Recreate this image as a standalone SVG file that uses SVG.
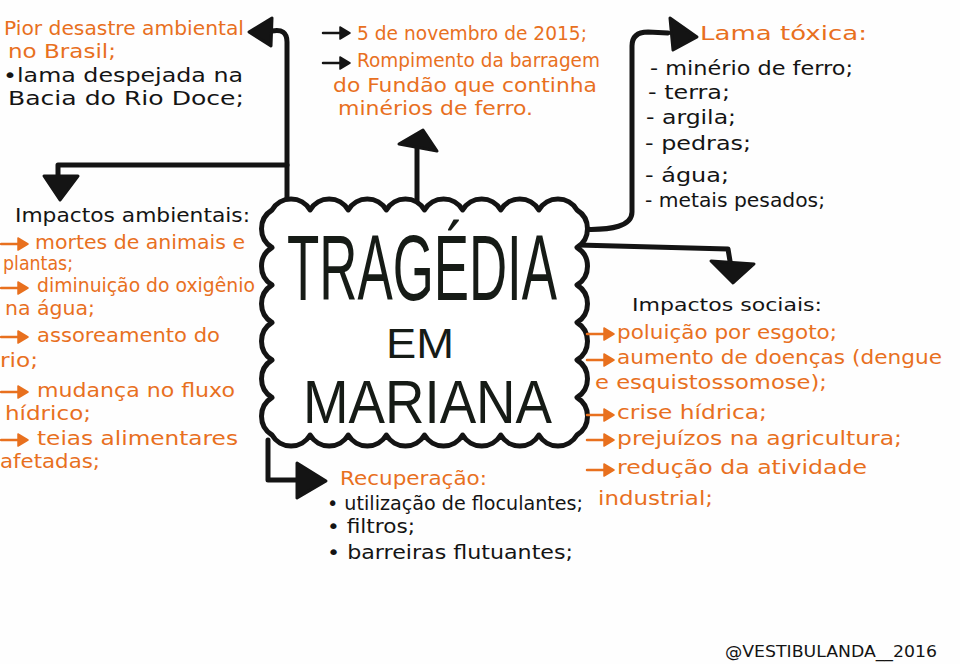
<svg xmlns="http://www.w3.org/2000/svg" xmlns:xlink="http://www.w3.org/1999/xlink" width="960" height="664" viewBox="0 0 960 664">
<style>
text{font-family:"DejaVu Sans","Liberation Sans",sans-serif;font-size:19px}
.o{fill:#e8701e}
.k{fill:#141414}
.conn{fill:none;stroke:#141414;stroke-width:5;stroke-linecap:round;stroke-linejoin:round}
.head{fill:#141414;stroke:#141414;stroke-width:3;stroke-linejoin:round}
.title{fill:#161b16;font-family:"Liberation Sans","DejaVu Sans",sans-serif}
.ao{color:#e8701e}
.ak{color:#141414}
</style>
<defs>
<g id="arr">
<path d="M0,0 H19" fill="none" stroke="currentColor" stroke-width="2.5" stroke-linecap="round"/>
<path d="M17,-6 L27,0 L17,6 Z" fill="currentColor" stroke="currentColor" stroke-width="1.5" stroke-linejoin="round"/>
</g>
</defs>
<rect width="960" height="664" fill="#fefefe"/>

<g id="connectors">
<path class="conn" d="M287,203 L287,42 Q287,28 272,31"/>
<polygon class="head" points="249,32 272,18 271,46"/>
<path class="conn" d="M287,165 L58,165 L58,178"/>
<polygon class="head" points="44,176 78,176 60,200"/>
<path class="conn" d="M417,206 L417,146"/>
<polygon class="head" points="399,144 423,130 437,151"/>
<path class="conn" d="M578,229 Q632,232 632,212 L632,46 Q632,32 648,32 L668,33"/>
<polygon class="head" points="670,18 697,37 673,50"/>
<path class="conn" d="M578,245 L728,249 L730,261"/>
<polygon class="head" points="711,261 754,264 733,283"/>
<path class="conn" d="M268,440 L268,480 L298,480"/>
<polygon class="head" points="297,463 326,481 297,498"/>
</g>

<g id="center">
<path d="M272,210 a22,22 0 0 1 38.125,0 a22,22 0 0 1 38.125,0 a22,22 0 0 1 38.125,0 a22,22 0 0 1 38.125,0 a22,22 0 0 1 38.125,0 a22,22 0 0 1 38.125,0 a22,22 0 0 1 38.125,0 a22,22 0 0 1 38.125,0 a22,22 0 0 1 0,37.5 a22,22 0 0 1 0,37.5 a22,22 0 0 1 0,37.5 a22,22 0 0 1 0,37.5 a22,22 0 0 1 0,37.5 a22,22 0 0 1 0,37.5 a22,22 0 0 1 -38.125,0 a22,22 0 0 1 -38.125,0 a22,22 0 0 1 -38.125,0 a22,22 0 0 1 -38.125,0 a22,22 0 0 1 -38.125,0 a22,22 0 0 1 -38.125,0 a22,22 0 0 1 -38.125,0 a22,22 0 0 1 -38.125,0 a22,22 0 0 1 0,-37.5 a22,22 0 0 1 0,-37.5 a22,22 0 0 1 0,-37.5 a22,22 0 0 1 0,-37.5 a22,22 0 0 1 0,-37.5 a22,22 0 0 1 0,-37.5 Z" fill="#fff" stroke="#141414" stroke-width="5" stroke-linejoin="round"/>
<text class="title" x="287" y="300" style="font-size:92px" textLength="270" lengthAdjust="spacingAndGlyphs">TRAGÉDIA</text>
<text class="title" x="386" y="358" style="font-size:42px" textLength="68" lengthAdjust="spacingAndGlyphs">EM</text>
<text class="title" x="303" y="423" style="font-size:62px" textLength="249" lengthAdjust="spacingAndGlyphs">MARIANA</text>
</g>

<g id="node-desastre">
<text class="o" x="4" y="35" textLength="240" lengthAdjust="spacingAndGlyphs">Pior desastre ambiental</text>
<text class="o" x="8" y="58" textLength="108" lengthAdjust="spacingAndGlyphs">no Brasil;</text>
<text class="k" x="3" y="82" textLength="240" lengthAdjust="spacingAndGlyphs">•lama despejada na</text>
<text class="k" x="8" y="105" textLength="236" lengthAdjust="spacingAndGlyphs">Bacia do Rio Doce;</text>
</g>

<g id="node-data">
<use xlink:href="#arr" href="#arr" class="ak" x="323" y="33"/>
<use xlink:href="#arr" href="#arr" class="ak" x="323" y="63"/>
<text class="o" x="357" y="40" textLength="230" lengthAdjust="spacingAndGlyphs">5 de novembro de 2015;</text>
<text class="o" x="357" y="67" textLength="243" lengthAdjust="spacingAndGlyphs">Rompimento da barragem</text>
<text class="o" x="333" y="92" textLength="264" lengthAdjust="spacingAndGlyphs">do Fundão que continha</text>
<text class="o" x="338" y="115" textLength="195" lengthAdjust="spacingAndGlyphs">minérios de ferro.</text>
</g>

<g id="node-lama">
<text class="o" x="700" y="40" textLength="167" lengthAdjust="spacingAndGlyphs">Lama tóxica:</text>
<text class="k" x="650" y="75" textLength="203" lengthAdjust="spacingAndGlyphs">- minério de ferro;</text>
<text class="k" x="648" y="99" textLength="82" lengthAdjust="spacingAndGlyphs">- terra;</text>
<text class="k" x="646" y="124" textLength="90" lengthAdjust="spacingAndGlyphs">- argila;</text>
<text class="k" x="645" y="150" textLength="106" lengthAdjust="spacingAndGlyphs">- pedras;</text>
<text class="k" x="645" y="182" textLength="84" lengthAdjust="spacingAndGlyphs">- água;</text>
<text class="k" x="645" y="207" textLength="180" lengthAdjust="spacingAndGlyphs">- metais pesados;</text>
</g>

<g id="node-ambientais">
<text class="k" x="15" y="222" textLength="235" lengthAdjust="spacingAndGlyphs">Impactos ambientais:</text>
<use xlink:href="#arr" href="#arr" class="ao" x="1" y="244"/>
<use xlink:href="#arr" href="#arr" class="ao" x="1" y="288"/>
<use xlink:href="#arr" href="#arr" class="ao" x="1" y="337"/>
<use xlink:href="#arr" href="#arr" class="ao" x="1" y="392"/>
<use xlink:href="#arr" href="#arr" class="ao" x="1" y="440"/>
<text class="o" x="35" y="249" textLength="210" lengthAdjust="spacingAndGlyphs">mortes de animais e</text>
<text class="o" x="3" y="270" textLength="70" lengthAdjust="spacingAndGlyphs">plantas;</text>
<text class="o" x="37" y="292" textLength="218" lengthAdjust="spacingAndGlyphs">diminuição do oxigênio</text>
<text class="o" x="5" y="315" textLength="90" lengthAdjust="spacingAndGlyphs">na água;</text>
<text class="o" x="37" y="342" textLength="183" lengthAdjust="spacingAndGlyphs">assoreamento do</text>
<text class="o" x="0" y="367" textLength="38" lengthAdjust="spacingAndGlyphs">rio;</text>
<text class="o" x="37" y="397" textLength="198" lengthAdjust="spacingAndGlyphs">mudança no fluxo</text>
<text class="o" x="5" y="420" textLength="86" lengthAdjust="spacingAndGlyphs">hídrico;</text>
<text class="o" x="37" y="445" textLength="201" lengthAdjust="spacingAndGlyphs">teias alimentares</text>
<text class="o" x="0" y="468" textLength="100" lengthAdjust="spacingAndGlyphs">afetadas;</text>
</g>

<g id="node-sociais">
<text class="k" x="632" y="311" style="font-size:18px" textLength="190" lengthAdjust="spacingAndGlyphs">Impactos sociais:</text>
<use xlink:href="#arr" href="#arr" class="ao" x="587" y="334"/>
<use xlink:href="#arr" href="#arr" class="ao" x="587" y="360"/>
<use xlink:href="#arr" href="#arr" class="ao" x="587" y="415"/>
<use xlink:href="#arr" href="#arr" class="ao" x="587" y="440"/>
<use xlink:href="#arr" href="#arr" class="ao" x="587" y="470"/>
<text class="o" x="617" y="339" textLength="220" lengthAdjust="spacingAndGlyphs">poluição por esgoto;</text>
<text class="o" x="617" y="364" textLength="325" lengthAdjust="spacingAndGlyphs">aumento de doenças (dengue</text>
<text class="o" x="595" y="389" textLength="232" lengthAdjust="spacingAndGlyphs">e esquistossomose);</text>
<text class="o" x="617" y="419" textLength="150" lengthAdjust="spacingAndGlyphs">crise hídrica;</text>
<text class="o" x="617" y="445" textLength="285" lengthAdjust="spacingAndGlyphs">prejuízos na agricultura;</text>
<text class="o" x="617" y="474" textLength="250" lengthAdjust="spacingAndGlyphs">redução da atividade</text>
<text class="o" x="598" y="505" textLength="115" lengthAdjust="spacingAndGlyphs">industrial;</text>
</g>

<g id="node-recuperacao">
<text class="o" x="340" y="485" textLength="147" lengthAdjust="spacingAndGlyphs">Recuperação:</text>
<text class="k" x="327" y="510" textLength="256" lengthAdjust="spacingAndGlyphs">• utilização de floculantes;</text>
<text class="k" x="327" y="533" textLength="88" lengthAdjust="spacingAndGlyphs">• filtros;</text>
<text class="k" x="327" y="559" textLength="246" lengthAdjust="spacingAndGlyphs">• barreiras flutuantes;</text>
</g>

<g id="signature">
<text class="k" x="725" y="657" style="font-size:15px" textLength="212" lengthAdjust="spacingAndGlyphs">@VESTIBULANDA__2016</text>
</g>
</svg>
